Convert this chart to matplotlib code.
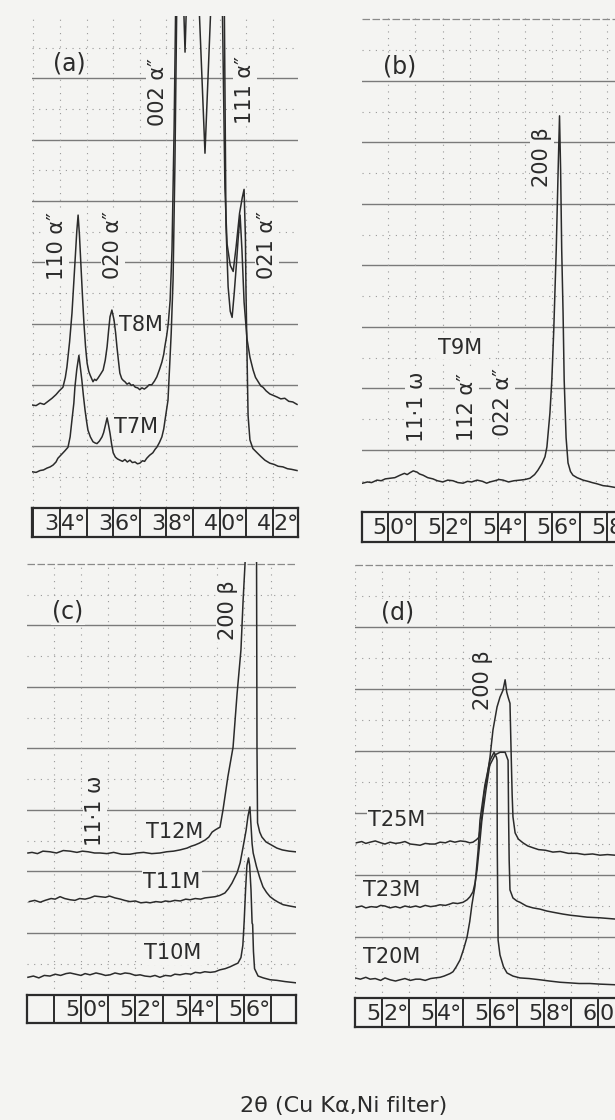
import matplotlib.pyplot as plt
import numpy as np

BG = '#f4f4f2'
INK = '#2b2b2b'
GRID = '#7a7a7a'

# -----------------------------
# (a) traces: 2theta (deg), intensity (chart divisions)
# -----------------------------
T8M = [(32.95, 1.67), (33.10, 1.66), (33.25, 1.70), (33.40, 1.68), (33.55, 1.73),
       (33.70, 1.78), (33.85, 1.84), (33.97, 1.90), (34.11, 1.96), (34.20, 2.12),
       (34.26, 2.29), (34.36, 2.70), (34.45, 3.17), (34.56, 3.98), (34.63, 4.50),
       (34.68, 4.77), (34.73, 4.45), (34.79, 3.92), (34.85, 3.40), (34.90, 3.00),
       (34.96, 2.62), (35.02, 2.35), (35.08, 2.22), (35.13, 2.16), (35.19, 2.10),
       (35.24, 2.05), (35.30, 2.09), (35.36, 2.07), (35.43, 2.11), (35.52, 2.17),
       (35.62, 2.24), (35.70, 2.40), (35.77, 2.62), (35.83, 2.90), (35.88, 3.11),
       (35.95, 3.22), (36.00, 3.12), (36.03, 3.06), (36.09, 2.85), (36.14, 2.62),
       (36.20, 2.38), (36.25, 2.19), (36.32, 2.10), (36.38, 2.07), (36.44, 2.05),
       (36.52, 2.01), (36.60, 2.03), (36.68, 1.99), (36.75, 2.00), (36.83, 1.96),
       (36.92, 1.95), (37.00, 1.92), (37.08, 1.95), (37.17, 1.93), (37.26, 1.96),
       (37.35, 2.00), (37.45, 2.00), (37.55, 2.06), (37.64, 2.13), (37.74, 2.25),
       (37.83, 2.37), (37.90, 2.50), (37.94, 2.62), (38.01, 2.80), (38.07, 3.00),
       (38.14, 3.38), (38.21, 4.20), (38.29, 6.20), (38.36, 8.60), (38.62, 8.60),
       (38.70, 7.43), (38.78, 8.60), (40.17, 8.60), (40.24, 4.60), (40.32, 3.60),
       (40.40, 3.20), (40.47, 3.10), (40.55, 3.50), (40.62, 3.90), (40.70, 4.40),
       (40.77, 4.77), (40.84, 4.20), (40.92, 3.35), (41.03, 2.75), (41.14, 2.45),
       (41.26, 2.24), (41.35, 2.12), (41.45, 2.05), (41.55, 1.98), (41.63, 1.96),
       (41.75, 1.90), (41.89, 1.85), (42.00, 1.83), (42.16, 1.80), (42.30, 1.77),
       (42.45, 1.78), (42.60, 1.73), (42.75, 1.72), (42.91, 1.68)]

T7M = [(32.95, 0.58), (33.10, 0.57), (33.25, 0.60), (33.38, 0.61), (33.51, 0.64),
       (33.63, 0.66), (33.74, 0.69), (33.85, 0.74), (33.92, 0.80), (34.05, 0.86),
       (34.18, 0.92), (34.30, 0.98), (34.38, 1.15), (34.45, 1.43), (34.52, 1.70),
       (34.56, 1.96), (34.63, 2.25), (34.71, 2.48), (34.76, 2.30), (34.82, 2.08),
       (34.88, 1.82), (34.94, 1.59), (35.00, 1.40), (35.05, 1.26), (35.14, 1.15),
       (35.24, 1.07), (35.32, 1.05), (35.39, 1.04), (35.48, 1.08), (35.58, 1.15),
       (35.64, 1.22), (35.69, 1.31), (35.77, 1.46), (35.83, 1.33), (35.88, 1.21),
       (35.94, 1.03), (36.00, 0.89), (36.08, 0.82), (36.16, 0.79), (36.25, 0.77),
       (36.35, 0.75), (36.44, 0.78), (36.53, 0.74), (36.63, 0.77), (36.72, 0.73),
       (36.82, 0.74), (36.91, 0.71), (37.00, 0.72), (37.10, 0.76), (37.18, 0.75),
       (37.26, 0.80), (37.37, 0.85), (37.49, 0.89), (37.58, 0.95), (37.64, 0.98),
       (37.74, 1.06), (37.83, 1.15), (37.90, 1.28), (37.95, 1.43), (38.06, 1.75),
       (38.18, 2.84), (38.25, 3.71), (38.32, 5.60), (38.40, 8.60), (39.19, 8.60),
       (39.45, 5.78), (39.71, 8.60), (40.09, 8.60), (40.20, 5.20), (40.28, 4.30),
       (40.40, 3.95), (40.51, 3.85), (40.62, 4.25), (40.75, 4.80), (40.85, 5.05),
       (40.92, 5.19), (40.97, 4.40), (40.99, 3.60), (41.03, 2.50), (41.07, 1.50),
       (41.14, 1.10), (41.25, 0.96), (41.41, 0.89), (41.55, 0.83), (41.70, 0.77),
       (41.89, 0.72), (42.05, 0.70), (42.20, 0.67), (42.38, 0.66), (42.55, 0.63),
       (42.70, 0.62), (42.91, 0.60)]

# -----------------------------
# (b)
# -----------------------------
T9M = [(49.07, 0.46), (49.25, 0.48), (49.40, 0.47), (49.60, 0.51), (49.75, 0.50),
       (49.90, 0.53), (50.07, 0.54), (50.25, 0.55), (50.44, 0.59), (50.60, 0.62),
       (50.70, 0.60), (50.80, 0.63), (50.92, 0.66), (51.06, 0.64), (51.15, 0.61),
       (51.28, 0.59), (51.45, 0.55), (51.64, 0.53), (51.80, 0.50), (52.00, 0.48),
       (52.18, 0.51), (52.37, 0.50), (52.55, 0.47), (52.74, 0.46), (52.90, 0.49),
       (53.05, 0.48), (53.25, 0.51), (53.45, 0.49), (53.60, 0.46), (53.72, 0.48),
       (53.90, 0.50), (54.05, 0.52), (54.20, 0.51), (54.40, 0.48), (54.60, 0.50),
       (54.82, 0.51), (55.00, 0.52), (55.18, 0.54), (55.35, 0.60), (55.47, 0.67),
       (55.62, 0.78), (55.73, 0.89), (55.80, 1.05), (55.91, 1.60), (55.98, 2.14),
       (56.05, 2.95), (56.14, 4.25), (56.21, 5.55), (56.26, 6.43), (56.30, 5.55),
       (56.34, 4.25), (56.39, 3.22), (56.43, 2.14), (56.50, 1.20), (56.57, 0.79),
       (56.66, 0.65), (56.75, 0.59), (56.90, 0.55), (57.12, 0.51), (57.30, 0.49),
       (57.45, 0.47), (57.63, 0.45), (57.85, 0.42), (58.05, 0.41), (58.30, 0.39),
       (58.60, 0.38)]

# -----------------------------
# (c)
# -----------------------------
T12M = [(48.05, 2.30), (48.20, 2.31), (48.40, 2.29), (48.60, 2.33), (48.86, 2.32),
        (49.10, 2.30), (49.35, 2.34), (49.60, 2.33), (49.85, 2.31), (50.05, 2.33),
        (50.26, 2.32), (50.50, 2.30), (50.70, 2.30), (50.95, 2.29), (51.20, 2.31),
        (51.50, 2.28), (51.80, 2.28), (52.05, 2.30), (52.30, 2.31), (52.60, 2.29),
        (52.90, 2.30), (53.15, 2.32), (53.40, 2.33), (53.64, 2.35), (53.90, 2.38),
        (54.05, 2.41), (54.19, 2.43), (54.35, 2.46), (54.56, 2.51), (54.70, 2.56),
        (54.82, 2.64), (54.95, 2.68), (55.11, 2.72), (55.22, 3.00), (55.40, 3.54),
        (55.59, 4.02), (55.74, 4.90), (55.88, 5.60), (55.96, 6.41), (56.03, 7.00),
        (56.10, 7.80), (56.45, 7.80), (56.47, 4.00), (56.49, 2.79), (56.57, 2.64),
        (56.65, 2.56), (56.80, 2.48), (57.00, 2.43), (57.20, 2.38), (57.40, 2.35),
        (57.65, 2.33), (57.88, 2.32)]

T11M = [(48.10, 1.51), (48.30, 1.53), (48.50, 1.50), (48.68, 1.53), (48.90, 1.56),
        (49.05, 1.55), (49.23, 1.59), (49.40, 1.56), (49.60, 1.54), (49.78, 1.53),
        (49.95, 1.56), (50.15, 1.55), (50.33, 1.57), (50.50, 1.60), (50.70, 1.59),
        (50.90, 1.58), (51.05, 1.60), (51.25, 1.57), (51.45, 1.55), (51.60, 1.53),
        (51.80, 1.51), (52.00, 1.52), (52.20, 1.49), (52.40, 1.50), (52.54, 1.49),
        (52.75, 1.51), (52.95, 1.50), (53.10, 1.52), (53.27, 1.51), (53.45, 1.53),
        (53.65, 1.52), (53.85, 1.55), (54.01, 1.54), (54.20, 1.56), (54.40, 1.55),
        (54.56, 1.57), (54.75, 1.58), (54.93, 1.59), (55.10, 1.61), (55.29, 1.65),
        (55.42, 1.72), (55.55, 1.81), (55.65, 1.90), (55.74, 1.98), (55.85, 2.14),
        (55.96, 2.40), (56.07, 2.67), (56.14, 2.90), (56.21, 3.05), (56.25, 2.75),
        (56.29, 2.45), (56.33, 2.30), (56.45, 2.08), (56.57, 1.90), (56.69, 1.75),
        (56.82, 1.66), (56.95, 1.59), (57.10, 1.54), (57.25, 1.50), (57.43, 1.46),
        (57.65, 1.44), (57.90, 1.42)]

T10M = [(48.05, 0.28), (48.25, 0.30), (48.45, 0.27), (48.65, 0.31), (48.86, 0.30),
        (49.05, 0.33), (49.25, 0.31), (49.45, 0.34), (49.60, 0.35), (49.80, 0.33),
        (50.00, 0.31), (50.15, 0.34), (50.33, 0.32), (50.55, 0.35), (50.75, 0.33),
        (50.90, 0.31), (51.07, 0.32), (51.25, 0.35), (51.45, 0.33), (51.62, 0.35),
        (51.80, 0.34), (52.00, 0.31), (52.17, 0.32), (52.35, 0.30), (52.55, 0.29),
        (52.72, 0.31), (52.90, 0.28), (53.10, 0.31), (53.30, 0.30), (53.45, 0.33),
        (53.64, 0.32), (53.85, 0.34), (54.05, 0.33), (54.20, 0.36), (54.38, 0.35),
        (54.55, 0.37), (54.75, 0.36), (54.93, 0.37), (55.10, 0.40), (55.30, 0.42),
        (55.48, 0.45), (55.62, 0.48), (55.77, 0.51), (55.88, 0.60), (55.95, 0.80),
        (56.00, 1.20), (56.05, 1.70), (56.10, 2.10), (56.16, 2.22), (56.20, 2.10),
        (56.25, 1.70), (56.29, 1.16), (56.31, 1.14), (56.34, 0.70), (56.38, 0.42),
        (56.51, 0.30), (56.70, 0.27), (56.95, 0.24), (57.20, 0.23), (57.50, 0.21),
        (57.70, 0.20), (57.90, 0.19)]

# -----------------------------
# (d)
# -----------------------------
T25M = [(51.05, 2.52), (51.25, 2.54), (51.40, 2.51), (51.56, 2.53), (51.75, 2.55),
        (51.95, 2.52), (52.11, 2.50), (52.30, 2.53), (52.50, 2.51), (52.67, 2.52),
        (52.85, 2.54), (53.05, 2.50), (53.25, 2.49), (53.41, 2.48), (53.60, 2.51),
        (53.80, 2.50), (53.96, 2.50), (54.15, 2.53), (54.35, 2.52), (54.52, 2.55),
        (54.70, 2.53), (54.90, 2.55), (55.10, 2.54), (55.25, 2.52), (55.37, 2.53),
        (55.50, 2.57), (55.59, 2.61), (55.65, 2.80), (55.70, 2.94), (55.78, 3.32),
        (55.89, 3.58), (56.00, 3.90), (56.11, 4.34), (56.26, 4.71), (56.37, 4.87),
        (56.48, 4.98), (56.56, 5.15), (56.62, 4.95), (56.67, 4.87), (56.74, 4.77),
        (56.78, 4.02), (56.82, 3.30), (56.85, 2.94), (56.93, 2.68), (57.05, 2.58),
        (57.22, 2.52), (57.40, 2.47), (57.59, 2.44), (57.80, 2.41), (58.05, 2.40),
        (58.33, 2.37), (58.60, 2.38), (58.90, 2.35), (59.22, 2.35), (59.50, 2.33),
        (59.80, 2.34), (60.07, 2.32), (60.35, 2.33), (60.63, 2.32)]

T23M = [(51.05, 1.48), (51.25, 1.50), (51.40, 1.47), (51.60, 1.49), (51.80, 1.48),
        (51.95, 1.51), (52.11, 1.50), (52.30, 1.47), (52.50, 1.49), (52.67, 1.47),
        (52.85, 1.50), (53.05, 1.48), (53.25, 1.50), (53.41, 1.48), (53.60, 1.51),
        (53.80, 1.49), (53.96, 1.50), (54.15, 1.52), (54.35, 1.51), (54.50, 1.53),
        (54.63, 1.55), (54.80, 1.54), (55.00, 1.56), (55.15, 1.60), (55.26, 1.65),
        (55.37, 1.73), (55.45, 1.88), (55.52, 2.08), (55.63, 2.56), (55.70, 2.89),
        (55.85, 3.37), (55.99, 3.77), (56.19, 3.94), (56.37, 3.98), (56.56, 3.98),
        (56.67, 3.85), (56.69, 2.89), (56.71, 2.24), (56.74, 1.76), (56.85, 1.63),
        (57.00, 1.58), (57.11, 1.56), (57.35, 1.50), (57.59, 1.47), (57.85, 1.45),
        (58.10, 1.42), (58.33, 1.40), (58.70, 1.37), (59.00, 1.35), (59.22, 1.34),
        (59.60, 1.32), (60.07, 1.31), (60.35, 1.30), (60.63, 1.29)]

T20M = [(51.00, 0.34), (51.20, 0.32), (51.40, 0.35), (51.56, 0.32), (51.75, 0.33),
        (51.95, 0.30), (52.11, 0.34), (52.30, 0.31), (52.50, 0.29), (52.67, 0.31),
        (52.85, 0.33), (53.05, 0.30), (53.25, 0.32), (53.41, 0.32), (53.60, 0.30),
        (53.80, 0.33), (53.96, 0.34), (54.15, 0.35), (54.30, 0.37), (54.41, 0.39),
        (54.52, 0.41), (54.63, 0.44), (54.75, 0.52), (54.89, 0.63), (55.02, 0.80),
        (55.15, 1.00), (55.25, 1.25), (55.33, 1.52), (55.44, 1.81), (55.56, 2.40),
        (55.63, 2.89), (55.81, 3.45), (56.00, 3.85), (56.15, 3.98), (56.24, 3.90),
        (56.26, 3.85), (56.27, 2.40), (56.30, 0.95), (56.37, 0.71), (56.50, 0.52),
        (56.63, 0.42), (56.85, 0.37), (57.11, 0.34), (57.45, 0.33), (57.85, 0.31),
        (58.20, 0.29), (58.60, 0.27), (58.96, 0.26), (59.30, 0.25), (59.70, 0.25),
        (60.07, 0.24), (60.63, 0.23)]

# degree scale labels under each strip
ticks_a = [34, 36, 38, 40, 42]
ticks_b = [50, 52, 54, 56, 58]
ticks_c = [50, 52, 54, 56]
ticks_d = [52, 54, 56, 58, 60]

W, H = 615, 1120
fig = plt.figure(figsize=(W / 100, H / 100), dpi=100, facecolor=BG)


def px_axes(x0, y0, x1, y1):
    # place an axes by pixel box (origin top-left)
    return fig.add_axes([x0 / W, 1 - y1 / H, (x1 - x0) / W, (y1 - y0) / H])


def chart(box, xlim, ytop, n_solid, dashed_top):
    ax = px_axes(*box)
    ax.set_xlim(xlim)
    ax.set_ylim(0, ytop)
    ax.axis('off')
    for k in range(1, n_solid + 1):
        ax.axhline(k, color=GRID, lw=1.0, zorder=1)
    if dashed_top is not None:
        ax.axhline(dashed_top, color='#8a8a8a', lw=0.9, ls=(0, (6, 2)), zorder=1)
    for k in np.arange(0.5, ytop, 1.0):
        ax.axhline(k, color='#999999', lw=0.8, ls=(0, (1, 5)), zorder=1)
    for d in range(int(np.ceil(xlim[0])), int(np.floor(xlim[1])) + 1):
        ax.axvline(d, color='#999999', lw=0.8, ls=(0, (1, 5)), zorder=1)
    return ax


def trace(ax, pts):
    tt, ii = zip(*pts)
    ax.plot(tt, ii, color=INK, lw=1.1, zorder=5, clip_on=True)


def label(ax, x, y, s, rot=0, size=15):
    ax.text(x, y, s, rotation=rot, ha='center', va='center', fontsize=size,
            color=INK, zorder=4,
            bbox=dict(facecolor=BG, edgecolor='none', pad=1.2))


def scale_box(box, xlim, ticks):
    bx = px_axes(*box)
    bx.set_xlim(xlim)
    bx.set_ylim(0, 1)
    bx.set_xticks([])
    bx.set_yticks([])
    bx.set_facecolor(BG)
    for s in bx.spines.values():
        s.set_linewidth(1.6)
        s.set_color(INK)
    for d in range(int(np.ceil(xlim[0])), int(np.floor(xlim[1])) + 1):
        bx.axvline(d, color=INK, lw=1.4)
    for t in ticks:
        s = str(t)
        bx.text(t - 0.05, 0.46, s[0], ha='right', va='center', fontsize=16, color=INK)
        bx.text(t + 0.04, 0.46, s[1] + '°', ha='left', va='center', fontsize=16, color=INK)


AP = 'α\u2033'

# (a)
xa = (32.947, 42.947)
ax_a = chart((32, 16, 298, 507.3), xa, 8.02, 7, None)
trace(ax_a, T8M)
trace(ax_a, T7M)
label(ax_a, 34.34, 7.25, '(a)', size=17)
label(ax_a, 33.89, 4.26, '110 ' + AP, rot=90)
label(ax_a, 35.99, 4.28, '020 ' + AP, rot=90)
label(ax_a, 37.68, 6.78, '002 ' + AP, rot=90)
label(ax_a, 40.95, 6.81, '111 ' + AP, rot=90)
label(ax_a, 41.78, 4.28, '021 ' + AP, rot=90)
label(ax_a, 37.05, 2.98, 'T8M')
label(ax_a, 36.86, 1.31, 'T7M')
scale_box((32, 508, 298, 537), xa, ticks_a)

# (b)
xb = (49.051, 58.650)
ax_b = chart((362, 18, 625, 511.5), xb, 8.02, 7, 8.0)
trace(ax_b, T9M)
label(ax_b, 50.44, 7.23, '(b)', size=17)
label(ax_b, 55.62, 5.76, '200 β', rot=90)
label(ax_b, 52.63, 2.66, 'T9M')
label(ax_b, 51.06, 1.70, '11·1 ω', rot=90)
label(ax_b, 52.88, 1.70, '112 ' + AP, rot=90)
label(ax_b, 54.20, 1.78, '022 ' + AP, rot=90)
scale_box((362, 512, 625, 542), xb, ticks_b)

# (c)
xc = (48.015, 57.904)
ax_c = chart((27, 562, 296, 994.5), xc, 7.03, 6, 7.0)
trace(ax_c, T12M)
trace(ax_c, T11M)
trace(ax_c, T10M)
label(ax_c, 49.52, 6.22, '(c)', size=17)
label(ax_c, 55.40, 6.25, '200 β', rot=90)
label(ax_c, 50.51, 2.98, '11·1 ω', rot=90)
label(ax_c, 53.46, 2.64, 'T12M')
label(ax_c, 53.35, 1.83, 'T11M')
label(ax_c, 53.38, 0.67, 'T10M')
scale_box((27, 995, 296, 1023), xc, ticks_c)

# (d)
xd = (51.0, 61.0)
ax_d = chart((355, 562, 625, 999), xd, 7.05, 6, 7.0)
trace(ax_d, T25M)
trace(ax_d, T23M)
trace(ax_d, T20M)
label(ax_d, 52.56, 6.24, '(d)', size=17)
label(ax_d, 55.74, 5.15, '200 β', rot=90)
label(ax_d, 52.56, 2.89, 'T25M')
label(ax_d, 52.37, 1.76, 'T23M')
label(ax_d, 52.37, 0.68, 'T20M')
scale_box((355, 998, 625, 1027), xd, ticks_d)

fig.text(344 / W, 1 - 1106 / H, '2θ (Cu Kα,Ni filter)', ha='center', va='center',
         fontsize=16, color=INK)

fig.savefig('out.png', dpi=100, facecolor=BG)
